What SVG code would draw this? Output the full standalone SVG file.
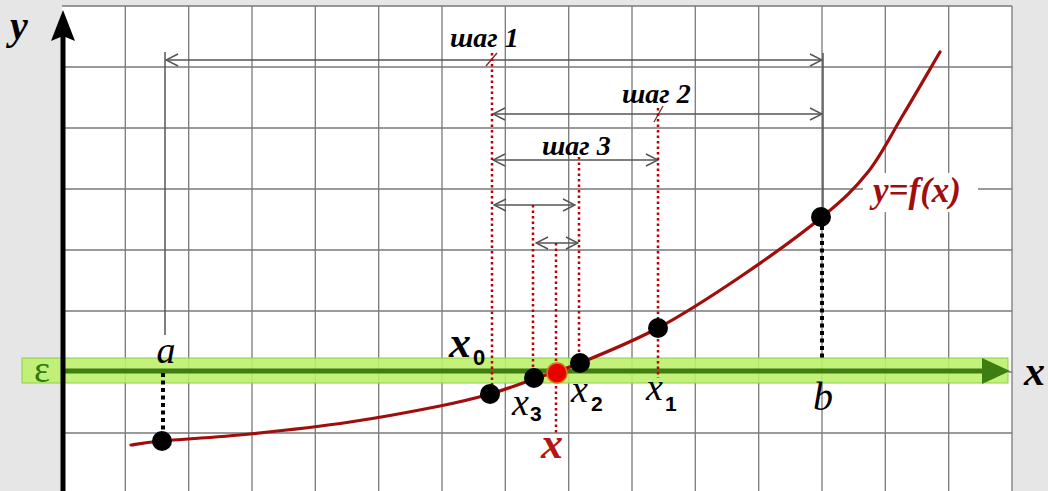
<svg xmlns="http://www.w3.org/2000/svg" width="1048" height="491" viewBox="0 0 1048 491">
<style>
.grid{stroke:#7a7a7a;stroke-width:1.3;fill:none}
.dim{stroke:#555;stroke-width:1.5;fill:none}
.rdot{stroke:#c00000;stroke-width:2.5;stroke-dasharray:2.5 3;fill:none}
.bdot{stroke:#000;stroke-width:4;stroke-dasharray:4 3.5;fill:none}
.serif{font-family:"Liberation Serif","Times New Roman",serif;font-style:italic}
.bi{font-family:"Liberation Serif","Times New Roman",serif;font-style:italic;font-weight:bold}
.sub{font-family:"Liberation Sans",Arial,sans-serif;font-weight:bold}
.pt{fill:#000}
</style>
<defs>
<marker id="op" viewBox="0 0 14 14" refX="13" refY="7" markerWidth="14" markerHeight="14" markerUnits="userSpaceOnUse" orient="auto-start-reverse">
<path d="M1,1 L13,7 L1,13" fill="none" stroke="#555" stroke-width="1.5"/>
</marker>
</defs>
<rect x="0" y="0" width="1048" height="491" fill="#e6e6e6"/>
<rect x="62" y="6" width="950" height="490" fill="#fff"/>
<g id="grid" class="grid">
<path d="M125.3,6V491M188.7,6V491M252,6V491M315.3,6V491M378.7,6V491M442,6V491M505.3,6V491M568.7,6V491M632,6V491M695.3,6V491M758.7,6V491M822,6V491M885.3,6V491M948.7,6V491M1012,6V491"/>
<path d="M62,6H1012M62,67H1012M62,128H1012M62,189H1012M62,250H1012M62,311H1012M62,372H1012M62,433H1012"/>
</g>
<rect x="863" y="173" width="115" height="39" fill="#fff"/>
<g id="band">
<rect x="22" y="358" width="986" height="25" fill="#bdf06b" fill-opacity="0.9" stroke="#8fcc4f" stroke-width="1"/>
<text x="42" y="382" text-anchor="middle" font-family="Liberation Serif,serif" font-size="38" fill="#2e7a10">ε</text>
</g>
<g id="axes">
<line x1="63" y1="371" x2="986" y2="371" stroke="#3d7d12" stroke-width="5"/>
<polygon points="982,358 1010,371 982,384" fill="#3d7d12"/>
<line x1="63" y1="491" x2="63" y2="36" stroke="#000" stroke-width="5"/>
<polygon points="63,10 51,41 63,36 75,41" fill="#000"/>
<text class="bi" x="10" y="39" font-size="40">y</text>
<text class="bi" x="1024" y="385" font-size="42">x</text>
</g>
<g id="connectors">
<line class="dim" x1="165" y1="52" x2="165" y2="335"/>
<line class="dim" x1="823" y1="53" x2="823" y2="212"/>
<line class="dim" x1="166" y1="60" x2="822" y2="60" marker-start="url(#op)" marker-end="url(#op)"/>
<line class="dim" x1="493" y1="114" x2="822" y2="114" marker-start="url(#op)" marker-end="url(#op)"/>
<line class="dim" x1="493" y1="160" x2="658" y2="160" marker-start="url(#op)" marker-end="url(#op)"/>
<line class="dim" x1="494" y1="205" x2="575" y2="205" marker-start="url(#op)" marker-end="url(#op)"/>
<line class="dim" x1="536" y1="243" x2="578" y2="243" marker-start="url(#op)" marker-end="url(#op)"/>
<line x1="486" y1="66" x2="497" y2="53" stroke="#7a2a2a" stroke-width="1.3"/>
<line x1="654" y1="122" x2="663" y2="106" stroke="#7a2a2a" stroke-width="1.3"/>
<line class="rdot" x1="492" y1="53" x2="492" y2="392"/>
<line class="rdot" x1="658" y1="108" x2="658" y2="378"/>
<line class="rdot" x1="579" y1="157" x2="579" y2="362"/>
<line class="rdot" x1="533" y1="205" x2="533" y2="376"/>
<line class="rdot" x1="556" y1="243" x2="556" y2="433"/>
<line class="bdot" x1="163" y1="373" x2="163" y2="438"/>
<line class="bdot" x1="822" y1="226" x2="822" y2="358"/>
</g>
<g id="curve">
<path d="M131,445 C136.2,444.3 142.2,442.8 162,441 C181.8,439.2 218.7,437.2 250,434 C281.3,430.8 318.3,426.7 350,422 C381.7,417.3 416.7,410.7 440,406 C463.3,401.3 474.3,398.5 490,394 C505.7,389.5 519,384.2 534,379 C549,373.8 559.3,371.5 580,363 C600.7,354.5 631.3,342.3 658,328 C684.7,313.7 712.7,295.5 740,277 C767.3,258.5 800.7,234.5 822,217 C843.3,199.5 854.5,189 868,172 C881.5,155 891,135 903,115 C915,95 933.8,62.5 940,52" fill="none" stroke="#a00d0d" stroke-width="3.2" stroke-linecap="round"/>
<text class="bi" x="873" y="202" font-size="35" fill="#a00d0d">y=f(x)</text>
</g>
<g id="point-a">
<circle class="pt" cx="162" cy="441" r="10"/>
<text class="serif" x="166" y="363" font-size="38" text-anchor="middle">a</text>
</g>
<g id="point-b">
<circle class="pt" cx="821" cy="217" r="10"/>
<text class="serif" x="823" y="410" font-size="40" text-anchor="middle">b</text>
</g>
<g id="point-x0">
<circle class="pt" cx="490" cy="394" r="10"/>
<text class="bi" x="449" y="357" font-size="44">x</text>
<text class="sub" x="473" y="365" font-size="22">0</text>
</g>
<g id="point-x3">
<circle class="pt" cx="534" cy="378" r="10"/>
<text class="serif" x="512" y="415" font-size="38">x</text>
<text class="sub" x="530" y="421" font-size="21">3</text>
</g>
<g id="point-x2">
<circle class="pt" cx="580" cy="363" r="10"/>
<text class="serif" x="571" y="402" font-size="38">x</text>
<text class="sub" x="591" y="411" font-size="21">2</text>
</g>
<g id="point-x1">
<circle class="pt" cx="658" cy="328" r="10"/>
<text class="serif" x="646" y="400" font-size="38">x</text>
<text class="sub" x="665" y="411" font-size="21">1</text>
</g>
<g id="point-x">
<circle cx="557" cy="373" r="10" fill="#e80000" stroke="#e07010" stroke-width="1.5"/>
<text class="bi" x="541" y="458" font-size="44" fill="#b51515">x</text>
</g>
<g id="labels">
<text class="bi" x="450" y="47" font-size="28">шаг 1</text>
<text class="bi" x="622" y="103" font-size="28">шаг 2</text>
<text class="bi" x="542" y="155" font-size="28">шаг 3</text>
</g>
</svg>
